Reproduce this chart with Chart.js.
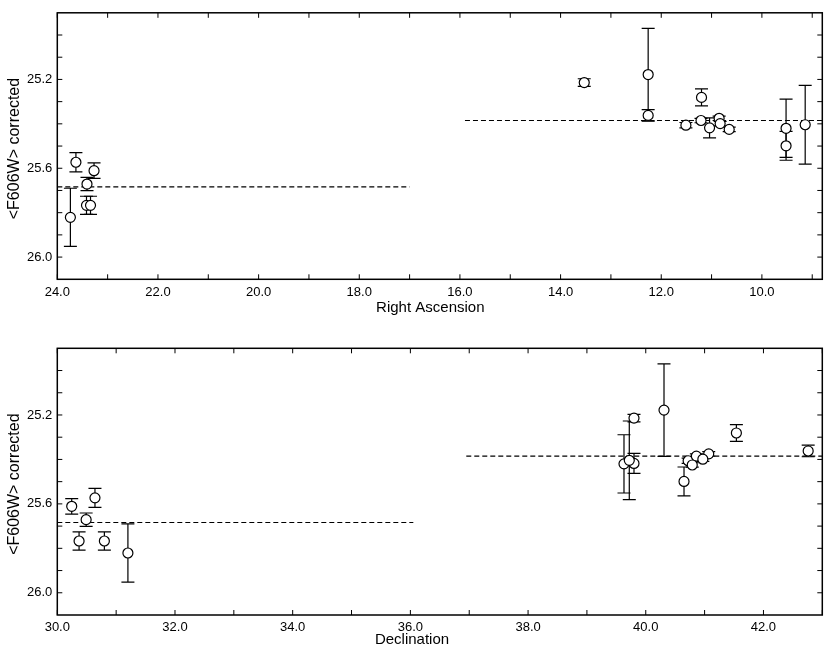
<!DOCTYPE html>
<html><head><meta charset="utf-8">
<script src="https://cdn.jsdelivr.net/npm/chart.js@4.4.0/dist/chart.umd.min.js"></script>
<style>html,body{margin:0;padding:0;background:#fff;} #wrap{position:relative;width:831px;height:652px;background:#fff;} canvas{position:absolute;left:0;}</style>
</head><body><div id="wrap"><canvas id="c1" width="831" height="326" style="top:0"></canvas><canvas id="c2" width="831" height="326" style="top:326px"></canvas></div>
<script>
// ---- data ----
const ra     = [23.74, 23.63, 23.27, 23.41, 23.42, 23.34, 13.53, 12.26, 12.26, 11.20, 11.51, 11.21, 11.04, 10.85, 10.83, 10.65, 9.52, 9.52, 9.14];
const dec    = [31.20, 30.64, 30.245, 30.49, 30.37, 30.80, 39.80, 40.31, 42.76, 41.54, 40.72, 40.86, 39.80, 41.07, 40.97, 40.79, 39.63, 40.65, 39.72];
const mag    = [25.821, 25.573, 25.611, 25.671, 25.767, 25.767, 25.214, 25.178, 25.362, 25.281, 25.406, 25.385, 25.418, 25.375, 25.399, 25.425, 25.420, 25.499, 25.404];
const magErr = [0.131, 0.043, 0.035, 0.030, 0.041, 0.041, 0.017, 0.208, 0.026, 0.038, 0.012, 0.010, 0.045, 0.010, 0.010, 0.010, 0.131, 0.065, 0.177];
const meanMag = [25.684, 25.385];
const raMeanSpans  = [[24.0, 17.0], [15.9, 8.8]];
const decMeanSpans = [[30.0, 36.05], [36.95, 43.0]];
const raTickLabels  = [24, 22, 20, 18, 16, 14, 12, 10];
const raMinorTicks  = [24, 23, 22, 21, 20, 19, 18, 17, 16, 15, 14, 13, 12, 11, 10, 9];
const decTickLabels = [30, 32, 34, 36, 38, 40, 42];
const decMinorTicks = [30, 31, 32, 33, 34, 35, 36, 37, 38, 39, 40, 41, 42, 43];
const magTickLabels = [25.2, 25.6, 26.0];
const magMinorTicks = [25.0, 25.1, 25.2, 25.3, 25.4, 25.5, 25.6, 25.7, 25.8, 25.9, 26.0];
const raRange  = [8.8, 24.0];
const decRange = [30.0, 43.0];
const magRange = [24.9, 26.1];
const yTitle = '<F606W> corrected';

const FONT = "'Liberation Sans', Arial, Helvetica, sans-serif";

function makePanel(canvasId, xs, xRange, xReverse, xLabels, xMinor, spans, xTitle, cfg) {
  const pts = xs.map((x, i) => ({x: x, y: mag[i]}));
  const meanSets = spans.map((s, k) => ({
    type: 'scatter', showLine: true, data: [{x: s[0], y: meanMag[k]}, {x: s[1], y: meanMag[k]}],
    borderColor: '#000', borderWidth: 1.1, borderDash: [5, 3], pointRadius: 0, fill: false, order: 2
  }));
  const panelPlugin = {
    id: 'panel_' + canvasId,
    beforeDatasetsDraw(chart) {
      const ctx = chart.ctx, xS = chart.scales.x, yS = chart.scales.y;
      ctx.save();
      ctx.strokeStyle = '#000'; ctx.lineWidth = 1.2;
      xs.forEach((x, i) => {
        const px = xS.getPixelForValue(x);
        const y1 = yS.getPixelForValue(mag[i] - magErr[i]);
        const y2 = yS.getPixelForValue(mag[i] + magErr[i]);
        ctx.beginPath();
        ctx.moveTo(px, y1); ctx.lineTo(px, y2);
        ctx.moveTo(px - 6.5, y1); ctx.lineTo(px + 6.5, y1);
        ctx.moveTo(px - 6.5, y2); ctx.lineTo(px + 6.5, y2);
        ctx.stroke();
      });
      ctx.restore();
    },
    afterDraw(chart) {
      const ctx = chart.ctx, xS = chart.scales.x, yS = chart.scales.y, a = chart.chartArea;
      ctx.save();
      ctx.strokeStyle = '#000'; ctx.lineWidth = 1.5;
      ctx.strokeRect(a.left, a.top, a.right - a.left, a.bottom - a.top);
      ctx.lineWidth = 1;
      ctx.beginPath();
      xMinor.forEach(v => {
        const px = xS.getPixelForValue(v);
        ctx.moveTo(px, a.bottom); ctx.lineTo(px, a.bottom - 5);
        ctx.moveTo(px, a.top); ctx.lineTo(px, a.top + 5);
      });
      magMinorTicks.forEach(v => {
        const py = yS.getPixelForValue(v);
        ctx.moveTo(a.left, py); ctx.lineTo(a.left + 5, py);
        ctx.moveTo(a.right, py); ctx.lineTo(a.right - 5, py);
      });
      ctx.stroke();
      ctx.fillStyle = '#000';
      ctx.font = '15px ' + FONT;
      ctx.textAlign = 'center'; ctx.textBaseline = 'middle';
      ctx.fillText(xTitle, cfg.xTitleX, cfg.xTitleY);
      ctx.save();
      ctx.translate(15, (a.top + a.bottom) / 2 + 2.5);
      ctx.rotate(-Math.PI / 2);
      ctx.font = '16px ' + FONT;
      ctx.fillText(yTitle, 0, 0);
      ctx.restore();
      ctx.restore();
    }
  };
  return new Chart(document.getElementById(canvasId), {
    type: 'scatter',
    data: {
      datasets: [{
        data: pts, pointRadius: 5, pointHoverRadius: 5, pointBackgroundColor: '#fff',
        pointBorderColor: '#000', pointBorderWidth: 1.2, showLine: false, order: 1
      }].concat(meanSets)
    },
    options: {
      responsive: false, animation: false, devicePixelRatio: 1,
      layout: {padding: {left: 0, right: 8.7, top: cfg.padTop, bottom: 0}},
      plugins: {legend: {display: false}, tooltip: {enabled: false}},
      scales: {
        x: {
          type: 'linear', min: xRange[0], max: xRange[1], reverse: xReverse,
          afterBuildTicks: s => { s.ticks = xLabels.map(v => ({value: v})); },
          afterFit: s => { s.height = cfg.xHeight; },
          ticks: {callback: v => Number(v).toFixed(1), font: {family: FONT, size: 13}, color: '#000', padding: 5, maxRotation: 0, autoSkip: false},
          grid: {display: false, drawTicks: false}, border: {display: false}
        },
        y: {
          type: 'linear', min: magRange[0], max: magRange[1], reverse: true,
          afterBuildTicks: s => { s.ticks = magTickLabels.map(v => ({value: v})); },
          afterFit: s => { s.width = 57.3; },
          ticks: {callback: v => Number(v).toFixed(1), font: {family: FONT, size: 13}, color: '#000', padding: 5, autoSkip: false},
          grid: {display: false, drawTicks: false}, border: {display: false}
        }
      }
    },
    plugins: [panelPlugin]
  });
}

makePanel('c1', ra, raRange, true, raTickLabels, raMinorTicks, raMeanSpans, 'Right Ascension',
  {padTop: 10.7, xHeight: 46.7, xTitleX: 430.3, xTitleY: 308});
makePanel('c2', dec, decRange, false, decTickLabels, decMinorTicks, decMeanSpans, 'Declination',
  {padTop: 22.3, xHeight: 37, xTitleX: 412, xTitleY: 314});
</script></body></html>
